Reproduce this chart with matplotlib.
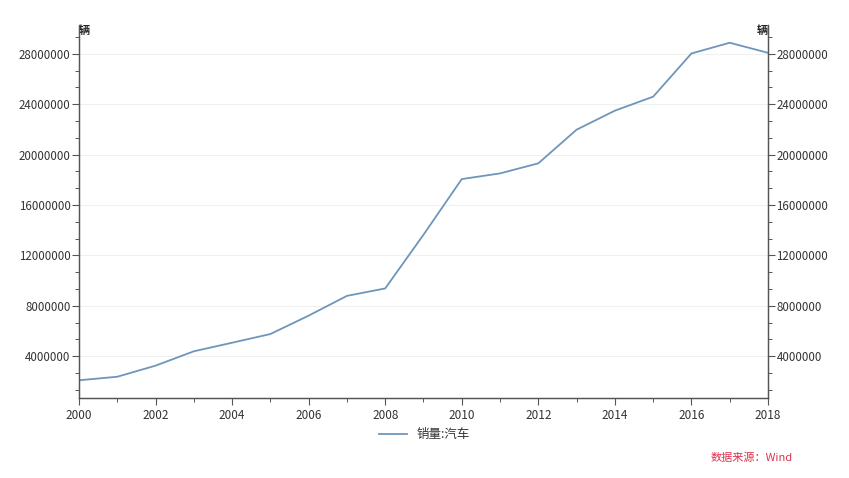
import matplotlib
matplotlib.use("Agg")
import matplotlib.pyplot as plt
from matplotlib.ticker import MultipleLocator, AutoMinorLocator

plt.rcParams['font.family'] = ['Noto Sans CJK SC', 'DejaVu Sans']

# 销量:汽车 (辆)
years = [2000, 2001, 2002, 2003, 2004, 2005, 2006, 2007, 2008, 2009,
         2010, 2011, 2012, 2013, 2014, 2015, 2016, 2017, 2018]
sales = [2090000, 2370000, 3250000, 4390000, 5070000, 5760000, 7220000,
         8790000, 9380000, 13640000, 18060000, 18510000, 19310000,
         21980000, 23490000, 24600000, 28030000, 28880000, 28080000]
series_name = '销量:汽车'
unit = '辆'

line_color = '#6f95bb'
axis_color = '#555555'
text_color = '#333333'

fig = plt.figure(figsize=(8.49, 4.78), dpi=100)
ax = fig.add_axes([0.093, 0.167, 0.8116, 0.781])
ax2 = ax.twinx()

ax.plot(years, sales, color=line_color, lw=1.3, label=series_name)

ylim = (670000, 30300000)
for a in (ax, ax2):
    a.set_ylim(*ylim)
    a.yaxis.set_major_locator(MultipleLocator(4000000))
    a.yaxis.set_minor_locator(AutoMinorLocator(3))
    a.yaxis.set_major_formatter(plt.FuncFormatter(lambda v, p: '%d' % v))
    a.tick_params(axis='y', which='major', length=5, width=0.8,
                  color=axis_color, labelsize=8.3, labelcolor=text_color, pad=1)
    a.tick_params(axis='y', which='minor', length=3, width=0.7, color=axis_color)
    a.spines['top'].set_visible(False)
    for s in ('left', 'right', 'bottom'):
        a.spines[s].set_color(axis_color)
        a.spines[s].set_linewidth(0.9)

ax.set_xlim(2000, 2018)
ax.xaxis.set_major_locator(MultipleLocator(2))
ax.xaxis.set_minor_locator(MultipleLocator(1))
ax.tick_params(axis='x', which='major', length=5, width=0.8, color=axis_color,
               labelsize=8.5, labelcolor=text_color, pad=3)
ax.tick_params(axis='x', which='minor', length=3, width=0.7, color=axis_color)
ax.grid(axis='y', which='major', color='#f0f0f0', lw=0.8)
ax.set_axisbelow(True)

# unit labels at the top of both axes
ax.text(0.0, 0.985, unit, transform=ax.transAxes, ha='left', va='center',
        fontsize=8, fontweight='bold', color='#222222')
ax.text(1.0, 0.985, unit, transform=ax.transAxes, ha='right', va='center',
        fontsize=8, fontweight='bold', color='#222222')

fig.legend(loc='center', bbox_to_anchor=(0.5, 0.09), frameon=False,
           fontsize=9, handlelength=2.2, labelcolor=text_color)

fig.text(0.885, 0.042, '数据来源：Wind', color='#e0304a', fontsize=8,
         style='italic', ha='center', va='center')

fig.savefig('out.png', dpi=100)
